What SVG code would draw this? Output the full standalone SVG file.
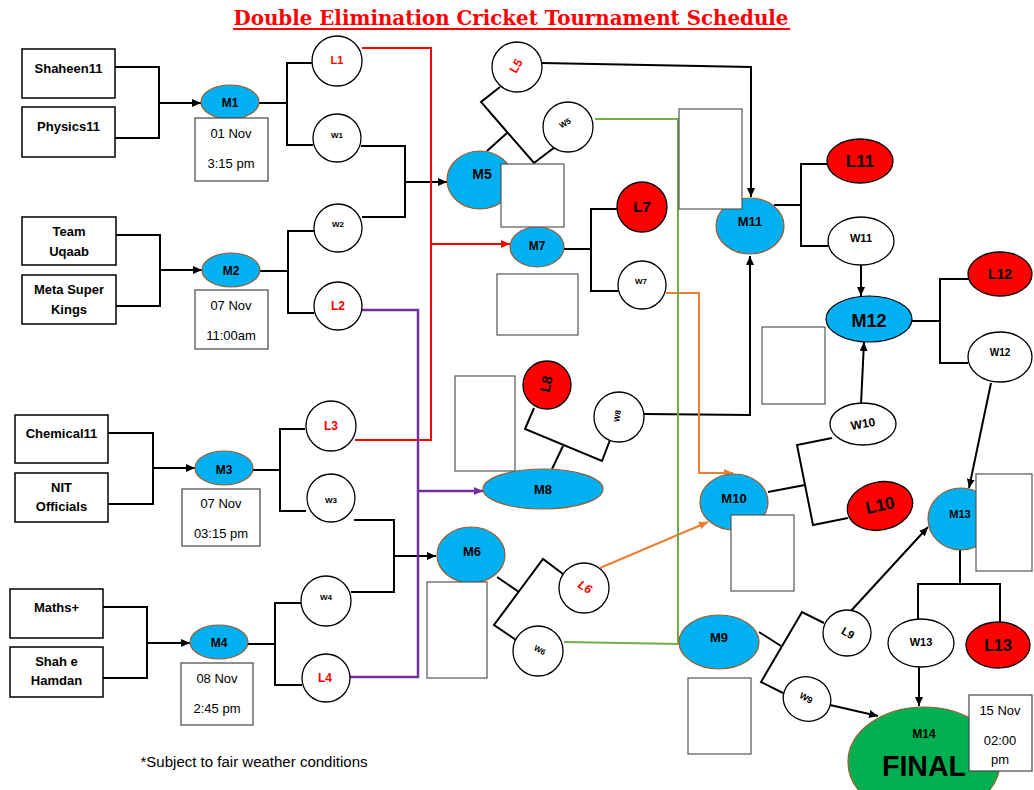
<svg xmlns="http://www.w3.org/2000/svg" width="1034" height="790" viewBox="0 0 1034 790">
<style>
.bg{fill:#fff}
.team{fill:#fff;stroke:#000;stroke-width:1.5}
.date{fill:#fff;stroke:#444;stroke-width:1.2}
.blank{fill:#fff;stroke:#555;stroke-width:1.2}
.m{fill:#00B0F0;stroke:#9C5B2E;stroke-width:1.2}
.w{fill:#fff;stroke:#000;stroke-width:1.3}
.r{fill:#FF0000;stroke:#000;stroke-width:1.3}
.fin{fill:#00B050;stroke:#9C5B2E;stroke-width:1.2}
.c{fill:none;stroke:#000;stroke-width:2}
.cr{fill:none;stroke:#FF0000;stroke-width:2}
.cp{fill:none;stroke:#7030A0;stroke-width:2.5}
.co{fill:none;stroke:#ED7D31;stroke-width:2}
.cg{fill:none;stroke:#70AD47;stroke-width:2}
text{font-family:"Liberation Sans",Arial,sans-serif;text-anchor:middle}
text.title{font-family:"DejaVu Serif","Liberation Serif",serif;font-weight:bold;font-size:20px;fill:#FF0000}
.tb{font-weight:bold;font-size:13px;fill:#000}
.td{font-size:13px;fill:#000}
.lb{font-weight:bold;fill:#000}
.lr{font-weight:bold;fill:#FF0000}
</style>
<defs>
<marker id="ak" markerWidth="9" markerHeight="8" refX="9" refY="4" orient="auto" markerUnits="userSpaceOnUse"><path d="M0,0L9,4L0,8z" fill="#000"/></marker>
<marker id="ar" markerWidth="9" markerHeight="8" refX="9" refY="4" orient="auto" markerUnits="userSpaceOnUse"><path d="M0,0L9,4L0,8z" fill="#FF0000"/></marker>
<marker id="ap" markerWidth="9" markerHeight="8" refX="9" refY="4" orient="auto" markerUnits="userSpaceOnUse"><path d="M0,0L9,4L0,8z" fill="#7030A0"/></marker>
<marker id="ao" markerWidth="9" markerHeight="8" refX="9" refY="4" orient="auto" markerUnits="userSpaceOnUse"><path d="M0,0L9,4L0,8z" fill="#ED7D31"/></marker>
</defs>
<rect class="bg" x="0" y="0" width="1034" height="790"/>

<g id="title">
<text class="title" x="511" y="25" textLength="555" lengthAdjust="spacingAndGlyphs">Double Elimination Cricket Tournament Schedule</text>
<line x1="233" y1="29" x2="790" y2="29" stroke="#FF0000" stroke-width="2"/>
</g>

<g id="connectors">
<polyline class="c" points="115,67 159,67 159,138 115,138"/>
<line class="c" x1="159" y1="103" x2="201" y2="103" marker-end="url(#ak)"/>
<line class="c" x1="259" y1="103" x2="287" y2="103"/>
<polyline class="c" points="312,63 287,63 287,145 313,145"/>
<polyline class="c" points="361,146 405,146 405,217 362,217"/>
<line class="c" x1="405" y1="182" x2="447" y2="182" marker-end="url(#ak)"/>
<polyline class="c" points="116,235 160,235 160,306 116,306"/>
<line class="c" x1="160" y1="270" x2="202" y2="270" marker-end="url(#ak)"/>
<line class="c" x1="260" y1="271" x2="288" y2="271"/>
<polyline class="c" points="314,231 288,231 288,313 314,313"/>
<polyline class="c" points="108,433 153,433 153,504 108,504"/>
<line class="c" x1="153" y1="468" x2="195" y2="468" marker-end="url(#ak)"/>
<line class="c" x1="253" y1="470" x2="280" y2="470"/>
<polyline class="c" points="305,429 280,429 280,511 306,511"/>
<polyline class="c" points="354,520 394,520 394,592 351,592"/>
<line class="c" x1="394" y1="556" x2="436" y2="556" marker-end="url(#ak)"/>
<polyline class="c" points="103,607 147,607 147,678 103,678"/>
<line class="c" x1="147" y1="643" x2="190" y2="643" marker-end="url(#ak)"/>
<line class="c" x1="248" y1="644" x2="275" y2="644"/>
<polyline class="c" points="301,603 275,603 275,685 302,685"/>
<line class="c" x1="487" y1="151" x2="507" y2="133"/>
<polyline class="c" points="500,87 481,102 534,163 555,147"/>
<polyline class="c" points="542,63 751,67 751,197" marker-end="url(#ak)"/>
<line class="c" x1="564" y1="249" x2="591" y2="249"/>
<polyline class="c" points="617,209 591,209 591,291 618,291"/>
<polyline class="c" points="534,408 525,429 602,461 610,440"/>
<line class="c" x1="563" y1="446" x2="552" y2="469"/>
<polyline class="c" points="644,414 750,415 750,256" marker-end="url(#ak)"/>
<polyline class="c" points="563,574 543,559 494,625 516,640"/>
<line class="c" x1="497" y1="577" x2="519" y2="592"/>
<polyline class="c" points="824,623 802,612 761,682 783,693"/>
<line class="c" x1="759" y1="632" x2="781" y2="646"/>
<line class="c" x1="849" y1="613" x2="928" y2="527" marker-end="url(#ak)"/>
<line class="c" x1="830" y1="705" x2="878" y2="716" marker-end="url(#ak)"/>
<line class="c" x1="768" y1="492" x2="805" y2="485"/>
<polyline class="c" points="832,438 797,445 813,525 848,518"/>
<line class="c" x1="861" y1="404" x2="864" y2="342" marker-end="url(#ak)"/>
<line class="c" x1="774" y1="205" x2="801" y2="205"/>
<polyline class="c" points="827,164 801,164 801,246 828,246"/>
<line class="c" x1="861" y1="265" x2="861" y2="296" marker-end="url(#ak)"/>
<line class="c" x1="912" y1="321" x2="940" y2="321"/>
<polyline class="c" points="968,279 940,279 940,363 968,363"/>
<line class="c" x1="991" y1="383" x2="969" y2="488" marker-end="url(#ak)"/>
<line class="c" x1="960" y1="550" x2="960" y2="584"/>
<polyline class="c" points="918,619 918,584 1000,584 1000,622"/>
<line class="c" x1="919" y1="667" x2="919" y2="706" marker-end="url(#ak)"/>
<polyline class="cr" points="362,48 431,48 431,244"/>
<polyline class="cr" points="355,440 431,440 431,244"/>
<line class="cr" x1="431" y1="244" x2="510" y2="244" marker-end="url(#ar)"/>
<polyline class="cp" points="362,310 418,310 418,677 350,677"/>
<line class="cp" x1="418" y1="491" x2="483" y2="491" marker-end="url(#ap)"/>
<polyline class="co" points="666,293 699,293 699,473 733,473" marker-end="url(#ao)"/>
<line class="co" x1="600" y1="568" x2="708" y2="522" marker-end="url(#ao)"/>
<polyline class="cg" points="595,119 678,119 678,644"/>
<line class="cg" x1="564" y1="642" x2="680" y2="644"/>
</g>

<g id="team-shaheen11"><rect class="team" x="22" y="49" width="93" height="49"/><text class="tb" x="68.5" y="73">Shaheen11</text></g>
<g id="team-physics11"><rect class="team" x="22" y="107" width="93" height="50"/><text class="tb" x="68.5" y="131">Physics11</text></g>
<g id="team-uqaab"><rect class="team" x="22" y="217" width="94" height="48"/><text class="tb" x="69" y="236">Team</text><text class="tb" x="69" y="256">Uqaab</text></g>
<g id="team-meta"><rect class="team" x="22" y="275" width="94" height="49"/><text class="tb" x="69" y="294">Meta Super</text><text class="tb" x="69" y="314">Kings</text></g>
<g id="team-chemical11"><rect class="team" x="15" y="415" width="93" height="48"/><text class="tb" x="61.5" y="438">Chemical11</text></g>
<g id="team-nit"><rect class="team" x="15" y="473" width="93" height="49"/><text class="tb" x="61.5" y="492">NIT</text><text class="tb" x="61.5" y="511">Officials</text></g>
<g id="team-maths"><rect class="team" x="10" y="589" width="93" height="49"/><text class="tb" x="56.5" y="612">Maths+</text></g>
<g id="team-shah"><rect class="team" x="10" y="647" width="93" height="50"/><text class="tb" x="56.5" y="666">Shah e</text><text class="tb" x="56.5" y="685">Hamdan</text></g>

<g id="m1"><ellipse class="m" cx="230" cy="102" rx="29" ry="17"/><text class="lb" font-size="12" x="230" y="107">M1</text>
<rect class="date" x="195" y="118" width="73" height="63"/><text class="td" x="231" y="138">01 Nov</text><text class="td" x="231" y="168">3:15 pm</text></g>
<g id="m2"><ellipse class="m" cx="231" cy="270" rx="29" ry="17"/><text class="lb" font-size="12" x="231" y="275">M2</text>
<rect class="date" x="195" y="290" width="73" height="59"/><text class="td" x="231" y="310">07 Nov</text><text class="td" x="231" y="340">11:00am</text></g>
<g id="m3"><ellipse class="m" cx="224" cy="468" rx="29" ry="17"/><text class="lb" font-size="12" x="224" y="474">M3</text>
<rect class="date" x="182" y="489" width="78" height="57"/><text class="td" x="221" y="508">07 Nov</text><text class="td" x="221" y="538">03:15 pm</text></g>
<g id="m4"><ellipse class="m" cx="219" cy="642" rx="29" ry="17"/><text class="lb" font-size="12" x="219" y="647">M4</text>
<rect class="date" x="181" y="663" width="72" height="62"/><text class="td" x="217" y="683">08 Nov</text><text class="td" x="217" y="713">2:45 pm</text></g>

<g id="l1"><circle class="w" cx="337" cy="61" r="25"/><text class="lr" font-size="11" x="337" y="64">L1</text></g>
<g id="w1"><circle class="w" cx="337" cy="138" r="24"/><text class="lb" font-size="8" x="337" y="138">W1</text></g>
<g id="w2"><circle class="w" cx="338" cy="228" r="24"/><text class="lb" font-size="8" x="338" y="227">W2</text></g>
<g id="l2"><circle class="w" cx="338" cy="306" r="24"/><text class="lr" font-size="12" x="338" y="310">L2</text></g>
<g id="l3"><circle class="w" cx="331" cy="426" r="25"/><text class="lr" font-size="12" x="331" y="430">L3</text></g>
<g id="w3"><circle class="w" cx="331" cy="498" r="24"/><text class="lb" font-size="8" x="331" y="503">W3</text></g>
<g id="w4"><circle class="w" cx="326" cy="601" r="25"/><text class="lb" font-size="8" x="326" y="600">W4</text></g>
<g id="l4"><circle class="w" cx="326" cy="678" r="24"/><text class="lr" font-size="12" x="325" y="682">L4</text></g>

<g id="m5"><ellipse class="m" cx="480" cy="180" rx="33" ry="29"/><text class="lb" font-size="14" x="482" y="179">M5</text></g>
<g id="l5"><circle class="w" cx="517" cy="67" r="25"/><text class="lr" font-size="12" transform="translate(516,66) rotate(-60)" x="0" y="4">L5</text></g>
<g id="w5"><circle class="w" cx="568" cy="127" r="25"/><text class="lb" font-size="8" font-weight="normal" transform="translate(565,123) rotate(-30)" x="0" y="3">W5</text></g>
<g id="m7"><ellipse class="m" cx="537" cy="247" rx="27" ry="20"/><text class="lb" font-size="12" x="537" y="250">M7</text></g>
<g id="l7"><circle class="r" cx="642" cy="207" r="25"/><text class="lb" font-size="15" x="642" y="212">L7</text></g>
<g id="w7"><circle class="w" cx="642" cy="285" r="24"/><text class="lb" font-size="8" x="641" y="284">W7</text></g>
<g id="m8"><ellipse class="m" cx="543" cy="489" rx="60" ry="20"/><text class="lb" font-size="13" x="543" y="494">M8</text></g>
<g id="l8"><circle class="r" cx="547" cy="385" r="24"/><text class="lb" font-size="14" transform="translate(546,384) rotate(-78)" x="0" y="5">L8</text></g>
<g id="w8"><circle class="w" cx="619" cy="417" r="25"/><text class="lb" font-size="8" font-weight="normal" transform="translate(617,416) rotate(-80)" x="0" y="3">W8</text></g>
<g id="m6"><ellipse class="m" cx="471" cy="555" rx="34" ry="28"/><text class="lb" font-size="13" x="472" y="556">M6</text></g>
<g id="l6"><circle class="w" cx="584" cy="588" r="25"/><text class="lr" font-size="12" font-style="italic" transform="translate(585,587) rotate(30)" x="0" y="4">L6</text></g>
<g id="w6"><circle class="w" cx="538" cy="651" r="25"/><text class="lb" font-size="8" font-weight="normal" transform="translate(540,650) rotate(30)" x="0" y="3">W6</text></g>

<g id="m9"><ellipse class="m" cx="719" cy="642" rx="40" ry="27"/><text class="lb" font-size="13" x="719" y="642">M9</text></g>
<g id="l9"><ellipse class="w" cx="847" cy="633" rx="24" ry="23"/><text class="lb" font-size="11" font-weight="normal" transform="translate(848,633) rotate(30)" x="0" y="4">L9</text></g>
<g id="w9"><ellipse class="w" cx="807" cy="699" rx="24" ry="22" transform="rotate(20 807 699)"/><text class="lb" font-size="9" font-weight="normal" transform="translate(806,698) rotate(30)" x="0" y="3">W9</text></g>
<g id="m10"><ellipse class="m" cx="734" cy="502" rx="34" ry="28"/><text class="lb" font-size="13" x="734" y="503">M10</text></g>
<g id="w10"><ellipse class="w" cx="863" cy="424" rx="33" ry="21"/><text class="lb" font-size="12" transform="translate(863,424) rotate(-10)" x="0" y="4">W10</text></g>
<g id="l10"><ellipse class="r" cx="880" cy="506" rx="33" ry="24" transform="rotate(-12 880 506)"/><text class="lb" font-size="17" font-weight="normal" transform="translate(880,505) rotate(-12)" x="0" y="6">L10</text></g>
<g id="m11"><ellipse class="m" cx="750" cy="226" rx="34" ry="28"/><text class="lb" font-size="13" x="750" y="226">M11</text></g>
<g id="l11"><ellipse class="r" cx="860" cy="161" rx="33" ry="22"/><text class="lb" font-size="17" x="860" y="167">L11</text></g>
<g id="w11"><ellipse class="w" cx="861" cy="241" rx="33" ry="24"/><text class="lb" font-size="11" x="861" y="242">W11</text></g>
<g id="m12"><ellipse class="m" cx="869" cy="319" rx="43" ry="23" style="stroke:#000"/><text class="lb" font-size="18" x="869" y="327">M12</text></g>
<g id="l12"><ellipse class="r" cx="1000" cy="274" rx="32" ry="22"/><text class="lb" font-size="14" x="1000" y="279">L12</text></g>
<g id="w12"><ellipse class="w" cx="1000" cy="357" rx="32" ry="25"/><text class="lb" font-size="10" x="1000" y="356">W12</text></g>
<g id="m13"><ellipse class="m" cx="961" cy="519" rx="33" ry="31"/><text class="lb" font-size="11" x="960" y="518">M13</text></g>
<g id="w13"><ellipse class="w" cx="921" cy="643" rx="33" ry="24"/><text class="lb" font-size="11" x="921" y="646">W13</text></g>
<g id="l13"><ellipse class="r" cx="998" cy="645" rx="32" ry="23"/><text class="lb" font-size="16" x="998" y="651">L13</text></g>
<g id="m14"><ellipse class="fin" cx="924" cy="762" rx="76" ry="55"/><text class="lb" font-size="12" x="924" y="738">M14</text><text class="lb" font-size="30" x="924" y="776" textLength="84" lengthAdjust="spacingAndGlyphs">FINAL</text>
<rect class="date" x="969" y="695" width="63" height="76"/><text class="td" x="1000" y="715">15 Nov</text><text class="td" x="1000" y="745">02:00</text><text class="td" x="1000" y="764">pm</text></g>

<g id="blank-boxes">
<rect class="blank" x="501" y="164" width="63" height="63"/>
<rect class="blank" x="679" y="109" width="63" height="100"/>
<rect class="blank" x="497" y="274" width="81" height="61"/>
<rect class="blank" x="455" y="376" width="60" height="95"/>
<rect class="blank" x="762" y="327" width="63" height="77"/>
<rect class="blank" x="427" y="582" width="60" height="96"/>
<rect class="blank" x="731" y="515" width="63" height="76"/>
<rect class="blank" x="976" y="474" width="56" height="97"/>
<rect class="blank" x="688" y="678" width="63" height="76"/>
</g>

<g id="footnote"><text x="254" y="767" font-size="14" fill="#000" textLength="227" lengthAdjust="spacingAndGlyphs">*Subject to fair weather conditions</text></g>
</svg>
